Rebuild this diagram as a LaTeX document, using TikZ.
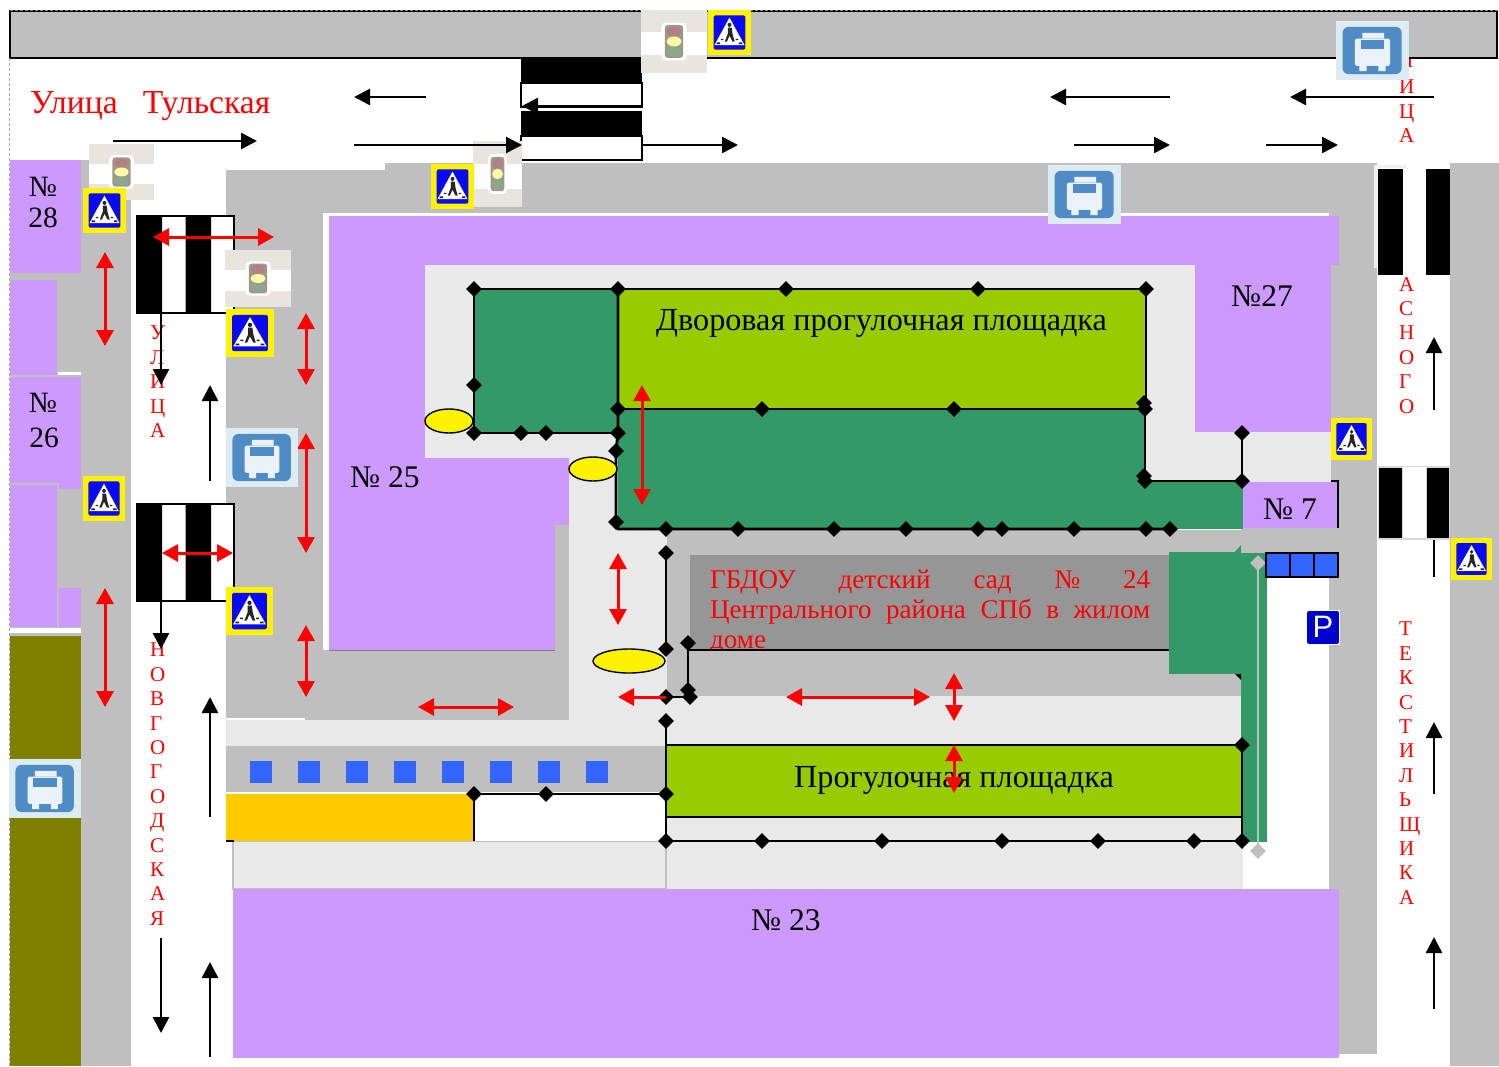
\documentclass[tikz,border=0pt]{standalone}
\usepackage{fontspec}
\setmainfont{Liberation Serif}
\newfontfamily\signfont{Liberation Sans}
\usetikzlibrary{arrows.meta,shapes.geometric}
\definecolor{road}{HTML}{BFBFBF}
\definecolor{court}{HTML}{E9E9E9}
\definecolor{house}{HTML}{CC99FF}
\definecolor{garden}{HTML}{339966}
\definecolor{lawn}{HTML}{99CC00}
\definecolor{gold}{HTML}{FFCC00}
\definecolor{olivebox}{HTML}{808000}
\definecolor{slab}{HTML}{969696}
\definecolor{carblue}{HTML}{3366FF}
\definecolor{lightbg}{HTML}{E8E4DE}
\definecolor{busblue}{HTML}{4F8CC6}
\definecolor{busbg}{HTML}{DDEBF3}
\definecolor{signblue}{HTML}{0A0AF0}
\tikzset{
  x=1pt,y=-1pt,
  fence/.style={line width=2.8pt,black},
  dia/.style={diamond,fill=black,inner sep=0pt,minimum width=16pt,minimum height=16pt},
  graydia/.style={diamond,fill=road,inner sep=0pt,minimum width=16pt,minimum height=16pt},
  blackarrow/.style={line width=2.6pt,black,-{Triangle[length=16pt,width=16pt]}},
  redboth/.style={line width=3pt,red,{Triangle[length=16pt,width=17pt]}-{Triangle[length=16pt,width=17pt]}},
  redone/.style={line width=3pt,red,{Triangle[length=16pt,width=17pt]}-},
  pool/.style={ellipse,draw=black,fill=yellow,line width=1.4pt,inner sep=0pt},
  bigtext/.style={font=\fontsize{32.2}{34}\selectfont,inner sep=0pt,anchor=base west},
  numtext/.style={font=\fontsize{31.5}{33}\selectfont,inner sep=0pt,anchor=base},
  smallnum/.style={font=\fontsize{29.5}{31}\selectfont,inner sep=0pt,anchor=base},
  vlabel/.style={font=\fontsize{21}{24.4}\selectfont,text=red,align=left,inner sep=0pt,anchor=north west},
  pics/ped/.style={code={
    \fill[yellow] (0,0) rectangle (1,1);
    \fill[signblue,rounded corners=1.5pt] (.13,.12) rectangle (.87,.88);
    \fill[white] (.5,.17) -- (.85,.78) -- (.15,.78) -- cycle;
    \fill[black!85] (.5,.33) circle [x radius=.045,y radius=.045];
    \fill[black!85] (.46,.39) -- (.55,.39) -- (.57,.53) -- (.62,.7) -- (.57,.7) -- (.5,.57) -- (.44,.7) -- (.39,.7) -- (.46,.53) -- cycle;
    \fill[black!85] (.2,.72) rectangle (.28,.76) (.72,.72) rectangle (.8,.76) (.3,.64) rectangle (.36,.67) (.64,.64) rectangle (.7,.67);
  }},
  pics/lights/.style={code={
    \fill[lightbg] (0,0) rectangle (1,1);
    \fill[white] (0,.35) rectangle (1,.72);
    \fill[white,rounded corners=4pt] (.31,.2) rectangle (.69,.8);
    \fill[gray!90!yellow,rounded corners=3pt] (.36,.24) rectangle (.64,.76);
    \fill[red!25!gray!80!white] (.5,.34) circle [x radius=.11,y radius=.08];
    \fill[yellow!35!white] (.5,.5) circle [x radius=.11,y radius=.08];
    \fill[green!15!gray!80!white] (.5,.66) circle [x radius=.11,y radius=.08];
  }},
  pics/bus/.style={code={
    \fill[busbg] (0,0) rectangle (1,1);
    \fill[busblue,rounded corners=6pt] (.09,.1) rectangle (.9,.9);
    \fill[white!88!busblue,rounded corners=1.5pt] (.26,.3) rectangle (.74,.76);
    \fill[white!88!busblue] (.32,.76) rectangle (.42,.85) (.58,.76) rectangle (.68,.85) (.36,.2) rectangle (.66,.3);
    \fill[busblue] (.34,.32) rectangle (.66,.47);
  }},
  pics/parksign/.style={code={
    \fill[white] (0,0) rectangle (1,1);
    \fill[blue!80!black,rounded corners=2pt] (.03,.03) rectangle (.97,.97);
  }},
  pics/zebra/.style={code={
    \fill[white] (0,0) rectangle (1,1);
    \fill[black] (0,0) rectangle (.26,1) (.5,0) rectangle (.765,1);
    \draw[black,line width=1.6pt] (0,0) rectangle (1,1);
  }},
}
\begin{document}
\begin{tikzpicture}
\useasboundingbox (0,0) rectangle (1499,1066);
\fill[white] (0,0) rectangle (1499,1066);

% hidden street letter below the upper road
\node[vlabel] (ulicaL) at (1399,54) {Л};

% upper road
\draw[fill=road,draw=black,line width=1.6pt] (10,11) rectangle (1497,58);
\draw[densely dashed,gray,line width=.8pt] (10,10) -- (1498,10);
\draw[densely dashed,gray!70,line width=.8pt] (9,58) -- (9,1066);

% pavements
\fill[road] (10,160) rectangle (131,1066);
\fill[road] (226,170) rectangle (385,214);
\fill[road] (385,163) rectangle (1377,214);
\fill[road] (226,170) rectangle (323,718);
\fill[road] (305,650) rectangle (569,720);
\fill[road] (1329,214) rectangle (1377,1054);
\fill[road] (1450,163) rectangle (1499,1066);
\fill[white] (323,213) rectangle (1329,216);
\fill[white] (323,213) rectangle (329,650);
\fill[white] (10,628) rectangle (81,633);
\fill[white] (58,372) rectangle (81,375);
\fill[white] (226,718) rectangle (305,720);
\fill[gray!12] (1374,165) rectangle (1378,268) (1374,165) rectangle (1406,168);

% houses on the left
\fill[house] (10,160) rectangle (81,273);
\fill[house] (10,280) rectangle (57,375);
\fill[house] (10,377) rectangle (81,483);
\fill[house] (59,483) rectangle (81,489);
\fill[house] (10,485) rectangle (57,627);
\fill[house] (59,588) rectangle (81,627);
\fill[olivebox] (10,636) rectangle (81,1066);

% courtyard surfaces
\fill[court] (425,265) rectangle (1195,458);
\fill[court] (1146,265) rectangle (1195,482);
\fill[court] (1195,432) rectangle (1331,482);
\fill[court] (569,458) rectangle (667,746);
\fill[court] (226,720) rectangle (667,746);
\fill[court] (667,696) rectangle (1241,745);
\fill[court] (666,817) rectangle (1243,889);
\draw[fill=court,draw=road,line width=1.5pt] (233,841) rectangle (666,889);

% main houses
\fill[house] (329,216) rectangle (1339,265);
\fill[house] (329,216) rectangle (425,650);
\fill[house] (425,458) rectangle (569,525);
\fill[house] (425,525) rectangle (555,650);
\fill[road] (555,525) rectangle (569,650);
\draw[gray,line width=.8pt] (329,650) -- (555,650);
\fill[house] (1195,265) rectangle (1331,432);
\fill[house] (1243,482) rectangle (1337,528);
\draw[black,line width=1.4pt] (1331,481) -- (1338,481) -- (1338,528);
\fill[house] (233,889) rectangle (1339,1058);

% kindergarten block
\fill[road] (667,530) rectangle (1241,696);
\fill[road] (1241,528) rectangle (1339,553);
\fill[slab] (690,555) rectangle (1170,650);
\node[font=\fontsize{27}{30}\selectfont,text=red,inner sep=0pt,align=left,anchor=north west] (kgtext) at (710,570)
  {\makebox[440pt][s]{ГБДОУ\hskip 15pt plus 1fil детский\hskip 15pt plus 1fil сад\hskip 15pt plus 1fil №\hskip 15pt plus 1fil 24}\\
   \makebox[440pt][s]{Центрального района СПб в жилом}\\
   доме};
\fill[road] (690,650) rectangle (1170,696);
\draw[black,line width=1.8pt] (688,650) -- (1170,650);

% green spaces and lawns
\fill[garden] (474,289) rectangle (618,433);
\fill[garden] (618,409) rectangle (1145,529);
\fill[garden] (1145,482) rectangle (1243,529);
\fill[lawn] (618,289) rectangle (1146,409);
\fill[garden] (1169,552) rectangle (1241,674);
\fill[garden] (1234,553) -- (1241,545) -- (1241,553) -- cycle;
\fill[garden] (1241,553) rectangle (1267,842);
\fill[black] (1235,674) -- (1241,674) -- (1241,680) -- cycle;
\fill[lawn] (666,745) rectangle (1241,817);

% car park, parking
\fill[white] (1267,577) rectangle (1329,889);
\fill[white] (1243,842) rectangle (1329,889);
\draw[road,line width=1.6pt] (1258,563) -- (1258,851);
\node[graydia] (gd1) at (1258,563) {};
\node[graydia] (gd2) at (1258,851) {};
\fill[road] (226,746) rectangle (666,792);
\fill[white] (226,792) rectangle (666,794);
\fill[gold] (226,794) rectangle (474,841);
\fill[white] (474,794) rectangle (666,841);
\foreach \i in {0,...,7} \fill[carblue] (250+48*\i,761) rectangle ++(22,22);
\draw[fill=carblue,draw=black,line width=1.8pt] (1266,553) rectangle (1338,577);
\draw[black,line width=1.6pt] (1290,553) -- (1290,577) (1314,553) -- (1314,577);
\pic at (1306,610) [xscale=34,yscale=35] {parksign};
\node[font=\signfont\fontsize{31}{31}\selectfont,text=white,inner sep=0pt] (ptext) at (1323,627) {P};
\draw[black,line width=1.4pt] (226,841) -- (234,841);

% fences
\draw[fence] (474,289) -- (1146,289) -- (1146,409) -- (618,409);
\draw[fence] (474,289) -- (474,433) -- (618,433);
\draw[fence] (618,289) -- (618,433) -- (616,451) -- (616,522) -- (618,529) -- (1170,529);
\draw[fence] (1145,409) -- (1145,481) -- (1242,481) -- (1242,433);
\draw[fence] (666,553) -- (666,649);
\draw[fence] (688,643) -- (688,690);
\draw[fence] (666,697) -- (690,697);
\draw[fence] (666,721) -- (666,841);
\draw[fence] (666,745) -- (1242,745) -- (1242,841) -- (666,841);
\draw[fence] (666,817) -- (1242,817);
\draw[fence] (474,841) -- (474,794) -- (666,794);
\foreach \x/\y in {474/289,618/289,786/289,978/289,1146/289,474/385,474/433,521/433,546/433,618/433,
  618/409,762/409,954/409,1144/403,1145/409,1144/476,1145/481,1242/481,1242/433,616/451,616/522,
  666/529,738/529,834/529,906/529,978/529,1002/529,1074/529,1146/529,1170/529,
  666/553,666/649,688/643,688/690,666/697,690/697,666/721,1242/745,
  474/794,546/794,666/794,666/841,762/841,882/841,1002/841,1098/841,1194/841,1242/841}
  \node[dia] at (\x,\y) {};

% pools
\node[pool,minimum width=48pt,minimum height=24pt] (p1) at (449,421) {};
\node[pool,minimum width=48pt,minimum height=24pt] (p2) at (593,469) {};
\node[pool,minimum width=72pt,minimum height=24pt] (p3) at (629,661) {};

% labels
\node[bigtext,text=red,font=\fontsize{33.6}{35}\selectfont] (street) at (30,113) {Улица\hspace{25pt}Тульская};
\node[bigtext] (yard) at (656,330) {Дворовая прогулочная площадка};
\node[bigtext] (walk) at (794,787) {Прогулочная площадка};
\node[numtext,anchor=base west] (h23) at (751,930) {№ 23};
\node[numtext,anchor=base west] (h25) at (350,487) {№ 25};
\node[numtext,anchor=base west] (h27) at (1231,306) {№27};
\node[numtext,anchor=base west] (h7) at (1263,519) {№ 7};
\node[smallnum] (h28a) at (43,196) {№};
\node[smallnum] (h28b) at (43,227) {28};
\node[smallnum] (h26a) at (43,412) {№};
\node[smallnum] (h26b) at (44,447) {26};

\node[vlabel] (v1) at (150,326) {У\\Л\\И\\Ц\\А};
\node[vlabel] (v2) at (150,643) {Н\\О\\В\\Г\\О\\Г\\О\\Д\\С\\К\\А\\Я};
\node[vlabel] (v3) at (1399,80) {И\\Ц\\А};
\node[vlabel] (v4) at (1399,277) {А\\С\\Н\\О\\Г\\О};
\node[vlabel] (v5) at (1399,622) {Т\\Е\\К\\С\\Т\\И\\Л\\Ь\\Щ\\И\\К\\А};

% crossings
\fill[black] (521,58) rectangle (642,83);
\draw[black,line width=1.4pt] (521,83) rectangle (642,107);
\fill[black] (521,111) rectangle (642,136);
\draw[black,line width=1.4pt] (521,136) rectangle (642,160);
\pic at (137,216) [xscale=97,yscale=97] {zebra};
\pic at (137,504) [xscale=97,yscale=97] {zebra};
\fill[white] (1403,169) rectangle (1426,265);
\fill[black] (1378,169) rectangle (1403,275);
\fill[black] (1426,169) rectangle (1450,275);
\fill[road!60] (1378,466) rectangle (1450,540);
\fill[white] (1403,467) rectangle (1426,538);
\fill[black] (1379,468) rectangle (1402,538);
\fill[black] (1427,468) rectangle (1449,538);

% traffic lights
\pic at (641,10) [xscale=66,yscale=63] {lights};
\pic at (89,144) [xscale=65,yscale=56] {lights};
\pic at (473,141) [xscale=49,yscale=66] {lights};
\pic at (225,250) [xscale=66,yscale=57] {lights};

% traffic arrows
\draw[blackarrow] (426,97) -- (354,97);
\draw[blackarrow] (1170,97) -- (1050,97);
\draw[blackarrow] (1434,97) -- (1290,97);
\draw[blackarrow] (642,106) -- (522,106);
\draw[blackarrow] (113,141) -- (257,141);
\draw[blackarrow] (354,145) -- (522,145);
\draw[blackarrow] (642,145) -- (738,145);
\draw[blackarrow] (1074,145) -- (1170,145);
\draw[blackarrow] (1266,145) -- (1338,145);
\draw[blackarrow] (161,313) -- (161,385);
\draw[blackarrow] (161,601) -- (161,649);
\draw[blackarrow] (210,481) -- (210,385);
\draw[blackarrow] (210,817) -- (210,697);
\draw[blackarrow] (161,938) -- (161,1033);
\draw[blackarrow] (210,1057) -- (210,962);
\draw[blackarrow] (1434,410) -- (1434,337);
\draw[line width=2.6pt,black] (1434,540) -- (1434,577);
\draw[blackarrow] (1434,794) -- (1434,722);
\draw[blackarrow] (1434,1009) -- (1434,937);

% walking routes
\draw[redboth] (105,252) -- (105,346);
\draw[redboth] (153,237) -- (274,237);
\draw[redboth] (306,313) -- (306,385);
\draw[redboth] (306,433) -- (306,553);
\draw[redboth] (162,553) -- (233,553);
\draw[redboth] (105,588) -- (105,707);
\draw[redboth] (306,625) -- (306,697);
\draw[redboth] (418,707) -- (514,707);
\draw[redboth] (642,385) -- (642,505);
\draw[redboth] (618,553) -- (618,625);
\draw[redone] (618,697) -- (666,697);
\draw[redboth] (786,697) -- (930,697);
\draw[redboth] (954,673) -- (954,721);
\draw[redboth] (954,745) -- (954,793);

% signs
\pic at (708,10) [xscale=43,yscale=45] {ped};
\pic at (83,188) [xscale=43,yscale=45] {ped};
\pic at (431,164) [xscale=43,yscale=45] {ped};
\pic at (226,309) [xscale=48,yscale=48] {ped};
\pic at (83,476) [xscale=42,yscale=45] {ped};
\pic at (226,587) [xscale=47,yscale=48] {ped};
\pic at (1331,418) [xscale=41,yscale=42] {ped};
\pic at (1451,538) [xscale=41,yscale=42] {ped};
\pic at (1336,21) [xscale=73,yscale=59] {bus};
\pic at (1048,165) [xscale=73,yscale=59] {bus};
\pic at (226,428) [xscale=72,yscale=59] {bus};
\pic at (9,759) [xscale=72,yscale=59] {bus};
\end{tikzpicture}
\end{document}
